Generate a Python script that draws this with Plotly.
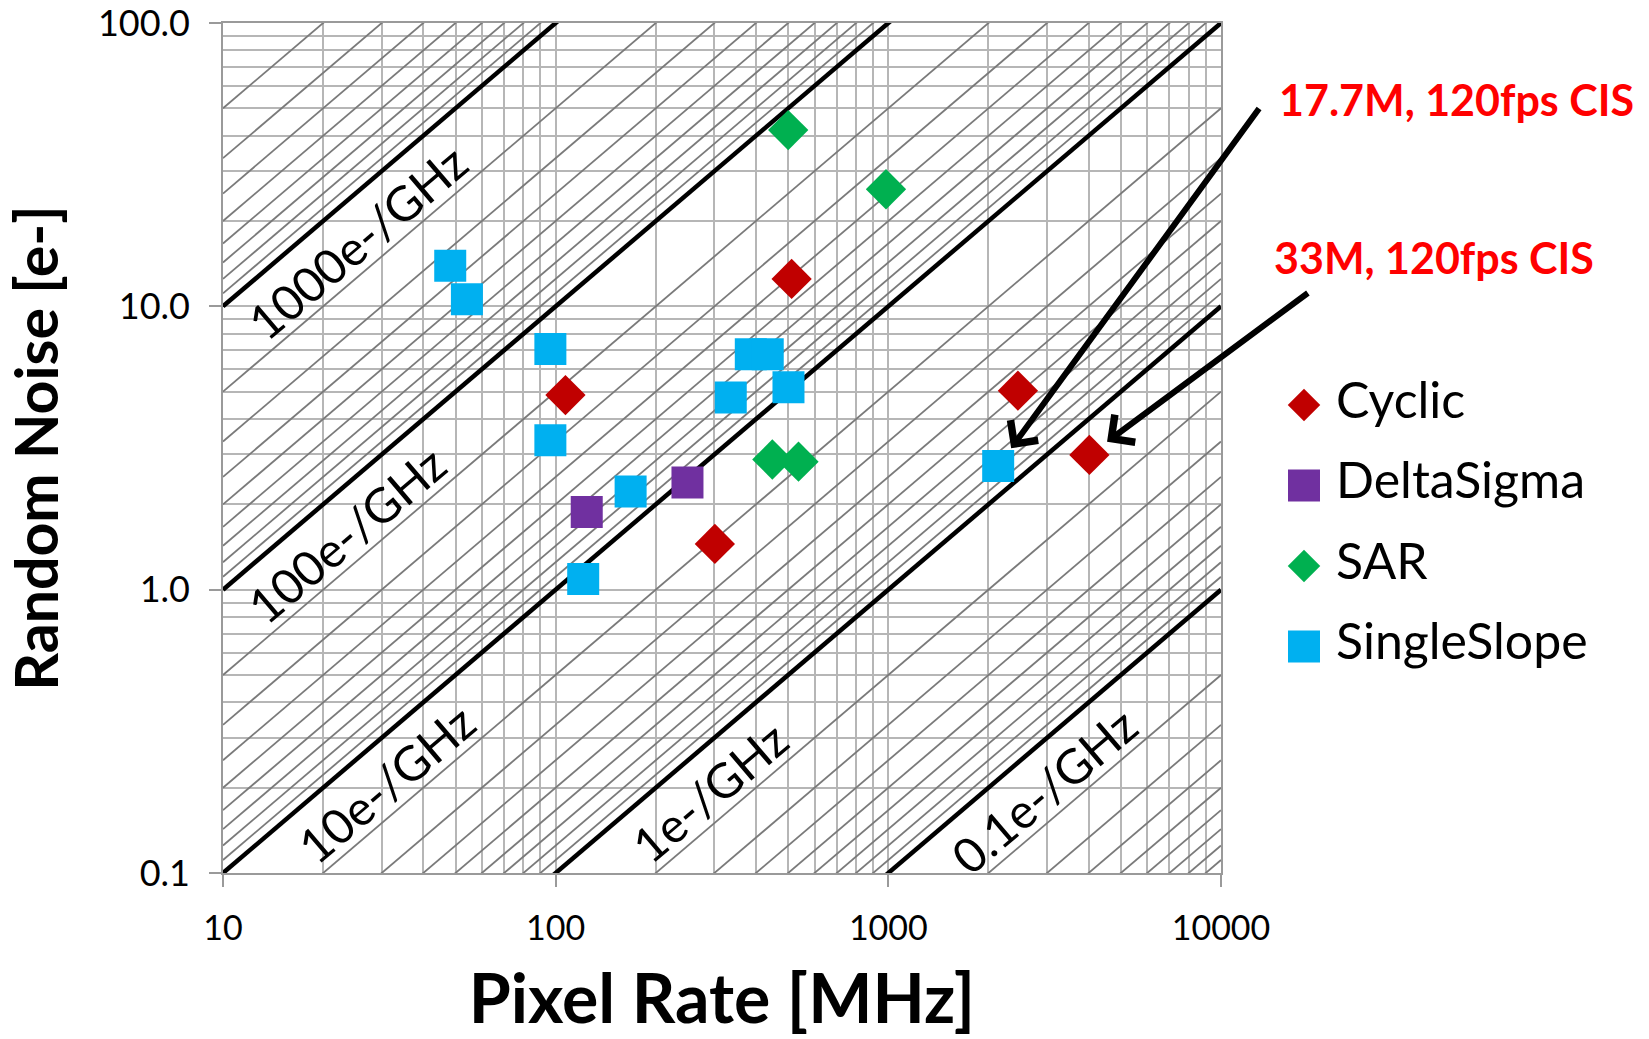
import math
import plotly.graph_objects as go

# ---------------- data ----------------
series_names = ["Cyclic", "DeltaSigma", "SAR", "SingleSlope"]
series_colors = ["#C00000", "#7030A0", "#00B050", "#00B0F0"]
series_symbols = ["diamond", "square", "diamond", "square"]

cyclic_rate = [107, 512, 301, 2452, 4021]
cyclic_noise = [4.86, 12.5, 1.45, 5.04, 2.99]
deltasigma_rate = [124, 249]
deltasigma_noise = [1.88, 2.39]
sar_rate = [500, 984, 448, 537]
sar_noise = [41.9, 25.9, 2.88, 2.83]
singleslope_rate = [48.2, 54.1, 96.4, 96.4, 121, 168, 336, 386, 434, 501, 2139]
singleslope_noise = [13.9, 10.6, 7.07, 3.37, 1.09, 2.22, 4.77, 6.77, 6.77, 5.18, 2.73]

guide_levels = [1000, 100, 10, 1, 0.1]          # e-/GHz (thick lines)
guide_labels = ["1000e-/GHz", "100e-/GHz", "10e-/GHz", "1e-/GHz", "0.1e-/GHz"]
guide_label_rate = [21.4, 19.8, 26.1, 245, 2471]  # where each label sits along its line

x_tickvals = [10, 100, 1000, 10000]
x_ticktext = ["10", "100", "1000", "10000"]
y_tickvals = [0.1, 1, 10, 100]
y_ticktext = ["0.1", "1.0", "10.0", "100.0"]

callout_text = ["17.7M, 120fps CIS", "33M, 120fps CIS"]
callout_rate = [2139, 4021]
callout_noise = [2.73, 2.99]

# ---------------- geometry ----------------
W, H = 1649, 1039
ML, MR, MT, MB = 223, 0, 23, 166
PW = W - ML - MR
PH = H - MT - MB
plot_right_px = 1221
xdom_main = (plot_right_px - ML) / PW
ang = math.degrees(math.atan((PH / 3) / ((plot_right_px - ML) / 3)))

FONT = "Lato"
GRID = "#b6b6b6"
DIAG = "#7a7a7a"

fig = go.Figure()

# minor gridline positions
x_minor = [m * 10 ** j for j in range(1, 4) for m in range(2, 10)]
y_minor = [m * 10 ** j for j in range(-1, 2) for m in range(2, 10)]

# thin diagonal guide lines: noise = k*rate/1000 with k = 10^n / m
xr = [10, 10000]
thin_x, thin_y = [], []
for n in range(-1, 5):
    for m in range(2, 10):
        k = 10 ** n / m
        thin_x += [xr[0], xr[1], None]
        thin_y += [k * xr[0] / 1000, k * xr[1] / 1000, None]
fig.add_trace(go.Scatter(x=thin_x, y=thin_y, mode="lines",
                         line=dict(color=DIAG, width=1.8), hoverinfo="skip",
                         showlegend=False))
thick_x, thick_y = [], []
for k in guide_levels:
    thick_x += [xr[0], xr[1], None]
    thick_y += [k * xr[0] / 1000, k * xr[1] / 1000, None]
fig.add_trace(go.Scatter(x=thick_x, y=thick_y, mode="lines",
                         line=dict(color="black", width=4.5), hoverinfo="skip",
                         showlegend=False))

data = [(cyclic_rate, cyclic_noise), (deltasigma_rate, deltasigma_noise),
        (sar_rate, sar_noise), (singleslope_rate, singleslope_noise)]
for (xs, ys), name, col, sym in zip(data, series_names, series_colors, series_symbols):
    size = 31 if sym == "diamond" else 32
    fig.add_trace(go.Scatter(x=xs, y=ys, mode="markers", name=name,
                             marker=dict(symbol=sym, size=size, color=col,
                                         line=dict(width=0)),
                             showlegend=False))

# custom legend on an auxiliary axis
for i, (name, col, sym) in enumerate(zip(series_names, series_colors, series_symbols)):
    size = 25 if sym == "diamond" else 32
    fig.add_trace(go.Scatter(x=[0], y=[i], mode="markers", xaxis="x2", yaxis="y2",
                             marker=dict(symbol=sym, size=size, color=col, line=dict(width=0)),
                             showlegend=False, hoverinfo="skip", cliponaxis=False))
    fig.add_trace(go.Scatter(x=[1], y=[i], mode="text", text=[name], xaxis="x2", yaxis="y2",
                             textposition="middle right",
                             textfont=dict(family=FONT, size=50, color="black"),
                             showlegend=False, hoverinfo="skip", cliponaxis=False))

annotations = []
# guide labels
off = 38
for k, lab, r in zip(guide_levels, guide_labels, guide_label_rate):
    annotations.append(dict(x=math.log10(r), y=math.log10(k * r / 1000), xref="x", yref="y",
                            text=lab, showarrow=False, textangle=-ang,
                            xshift=off * math.sin(math.radians(ang)),
                            yshift=-off * math.cos(math.radians(ang)),
                            font=dict(family=FONT, size=48, color="black")))

# callout arrows
arrow_tails = [(262, -359), (220, -163)]
for r, nz, (ax_, ay_) in zip(callout_rate, callout_noise, arrow_tails):
    annotations.append(dict(x=math.log10(r), y=math.log10(nz), xref="x", yref="y",
                            text="", showarrow=True, ax=ax_, ay=ay_,
                            arrowhead=4, arrowsize=1.1, arrowwidth=6,
                            arrowcolor="black", standoff=22))
# callout texts
callout_pos = [(1277, 100), (1272, 257)]
for t, (px, py) in zip(callout_text, callout_pos):
    annotations.append(dict(x=(px - ML) / PW, y=(H - MB - py) / PH, xref="paper", yref="paper",
                            text="<b>" + t + "</b>", showarrow=False, xanchor="left",
                            yanchor="middle",
                            font=dict(family=FONT, size=43, color="#FF0000")))

# legend axis mapping
leg_y0_px, leg_step = 405, 80.5
r0 = -(leg_y0_px - MT) / leg_step
r1 = r0 + PH / leg_step
lx0 = (1272 - ML) / PW
lx1 = (1336 - ML) / PW

fig.update_layout(
    template="none",
    width=W, height=H, autosize=False,
    margin=dict(l=ML, r=MR, t=MT, b=MB, pad=0, autoexpand=False),
    paper_bgcolor="white", plot_bgcolor="white",
    font=dict(family=FONT, color="black"),
    showlegend=False,
    annotations=annotations,
    xaxis=dict(type="log", range=[1, 4], domain=[0, xdom_main], automargin=False,
               tickvals=x_tickvals, ticktext=x_ticktext,
               ticks="outside", ticklen=12, tickcolor="#9a9a9a", tickwidth=1.5,
               ticklabelstandoff=12, ticklabeloverflow="allow",
               tickfont=dict(family=FONT, size=34, color="black"),
               showgrid=True, gridcolor=GRID, gridwidth=1.7,
               minor=dict(tickvals=x_minor, showgrid=True, gridcolor=GRID,
                          gridwidth=1.7, ticks=""),
               showline=True, linecolor="#9a9a9a", linewidth=1.7, mirror=True,
               zeroline=False,
               title=dict(text="<b>Pixel Rate [MHz]</b>", standoff=30,
                          font=dict(family=FONT, size=68, color="black"))),
    yaxis=dict(type="log", range=[-1, 2], domain=[0, 1], automargin=False,
               tickvals=y_tickvals, ticktext=y_ticktext,
               ticks="outside", ticklen=12, tickcolor="#9a9a9a", tickwidth=1.5,
               ticklabelstandoff=12, ticklabeloverflow="allow",
               tickfont=dict(family=FONT, size=36, color="black"),
               showgrid=True, gridcolor=GRID, gridwidth=1.7,
               minor=dict(tickvals=y_minor, showgrid=True, gridcolor=GRID,
                          gridwidth=1.7, ticks=""),
               showline=True, linecolor="#9a9a9a", linewidth=1.7, mirror=True,
               zeroline=False,
               title=dict(text="<b>Random Noise [e-]</b>", standoff=38,
                          font=dict(family=FONT, size=59, color="black"))),
    xaxis2=dict(domain=[lx0, lx1], range=[-1, 1], anchor="y2", visible=False,
                fixedrange=True, automargin=False),
    yaxis2=dict(domain=[0, 1], range=[r1, r0], anchor="x2", visible=False,
                fixedrange=True, automargin=False),
)

fig.write_html("out.html")
